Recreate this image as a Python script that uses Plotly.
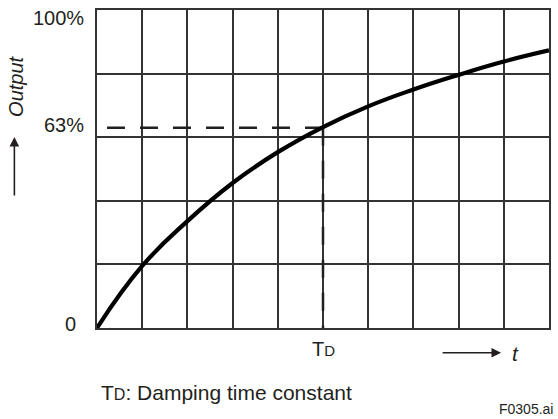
import plotly.graph_objects as go

# Data
t_vals = [0, 1, 2, 3, 4, 5, 6, 7, 8, 9, 10]
output_vals = [0, 0.195, 0.336, 0.456, 0.553, 0.632, 0.697, 0.750, 0.796, 0.838, 0.873]
td_value = 5
level_63 = 0.63

y_tick_labels = ["0", "63%", "100%"]

FONT = "Liberation Sans, Arial, sans-serif"
INK = "#231f20"

fig = go.Figure()

# dashed guide lines (horizontal drawn from TD leftwards, then vertical)
fig.add_trace(go.Scatter(x=[td_value, 0], y=[level_63, level_63], mode="lines",
                         line=dict(color=INK, width=2.5, dash="18px,15px"),
                         hoverinfo="skip", showlegend=False))
fig.add_trace(go.Scatter(x=[td_value, td_value], y=[level_63, 0], mode="lines",
                         line=dict(color=INK, width=2.5, dash="18px,15px"),
                         hoverinfo="skip", showlegend=False))

# response curve
fig.add_trace(go.Scatter(x=t_vals, y=output_vals, mode="lines",
                         line=dict(color="black", width=4.2, shape="spline", smoothing=1.3),
                         showlegend=False))

ann = []
def text(x, y, s, size=20, xa="center", ya="middle", italic=False, angle=0):
    ann.append(dict(x=x, y=y, xref="paper", yref="paper", text=s, showarrow=False,
                    xanchor=xa, yanchor=ya, textangle=angle,
                    font=dict(family=FONT, size=size, color=INK,
                              style="italic" if italic else "normal")))

text(-0.0242, 0.976, y_tick_labels[2], xa="right")
text(-0.0242, 0.638, y_tick_labels[1], xa="right")
text(-0.0595, 0.014, y_tick_labels[0])
text(0.502, -0.066, "T<span style='font-size:15px'>D</span>")
text(0.925, -0.079, "t", size=21, italic=True)
text(-0.1794, 0.761, "Output", italic=True, angle=-90)
text(0.0044, -0.204, "T<span style='font-size:16px'>D</span>: Damping time constant",
     size=21, xa="left")
text(1.013, -0.255, "F0305.ai", size=14, xa="right")

# arrows
ann.append(dict(x=0.894, y=-0.078, ax=-60, ay=0, xref="paper", yref="paper",
                text="", showarrow=True,
                arrowhead=2, arrowsize=1.2, arrowwidth=1.6, arrowcolor=INK))
ann.append(dict(x=-0.1828, y=0.601, ax=0, ay=60, xref="paper", yref="paper",
                text="", showarrow=True,
                arrowhead=2, arrowsize=1.2, arrowwidth=1.6, arrowcolor=INK))

fig.update_layout(
    width=558, height=419,
    margin=dict(l=97, r=7, t=10, b=91),
    paper_bgcolor="white", plot_bgcolor="white",
    annotations=ann,
    xaxis=dict(range=[0, 10], dtick=1, tick0=0, showgrid=True, gridcolor="#333",
               gridwidth=1.5, showticklabels=False, ticks="", zeroline=False,
               showline=True, linecolor="#333", linewidth=1.5, mirror=True, fixedrange=True),
    yaxis=dict(range=[0, 1], dtick=0.2, tick0=0, showgrid=True, gridcolor="#333",
               gridwidth=1.5, showticklabels=False, ticks="", zeroline=False,
               showline=True, linecolor="#333", linewidth=1.5, mirror=True, fixedrange=True),
)

fig.write_html("out.html", config={"displayModeBar": False},
               post_script="document.body.style.margin='0px';")
